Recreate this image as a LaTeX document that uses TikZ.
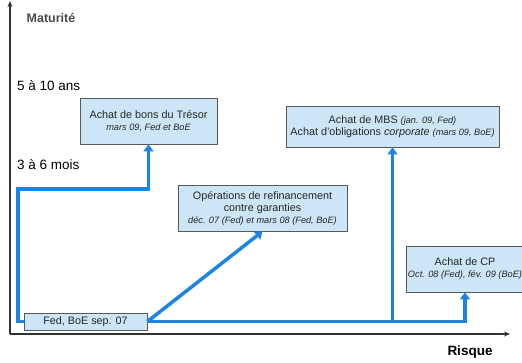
\documentclass[tikz,border=0pt]{standalone}
\usepackage{fontspec}
\setmainfont{Liberation Sans}
\usetikzlibrary{arrows.meta}
\definecolor{flowblue}{RGB}{30,132,226}
\definecolor{boxfill}{RGB}{204,230,248}
\newcommand{\dates}[1]{{\fontsize{9.2}{11}\selectfont\itshape #1}}

\begin{document}
\begin{tikzpicture}[x=1pt,y=-1pt]
\tikzstyle{every node}+=[inner sep=0pt]
\tikzstyle{box}=[draw=black!65,line width=0.8pt,fill=boxfill,align=center,text=black!85,font=\fontsize{10.8}{12}\selectfont]
\tikzstyle{flow}=[flowblue,line width=3.5pt,-{Triangle[length=7pt,width=10pt]}]
\tikzstyle{axis}=[black!80,line width=1.2pt,-{Stealth[length=6pt,width=5pt]}]
\tikzstyle{level}=[anchor=west,font=\fontsize{13.5}{15}\selectfont]
\useasboundingbox (0,0) rectangle (522,362);
\coordinate (o) at (10,334);
\coordinate (ytop) at (10,1);
\coordinate (xend) at (510,334);
\draw[axis] (o) -- (ytop);
\draw[axis] (o) -- (xend);
\node[font=\bfseries\fontsize{12.5}{14}\selectfont,text=black!70] (mat) at (51,18) {Maturité};
\node[level] (long) at (17,86) {5 à 10 ans};
\node[level] (court) at (17,165) {3 à 6 mois};
\node[font=\bfseries\fontsize{13.5}{15}\selectfont] (risque) at (470,352) {Risque};
\node[box,minimum width=137,minimum height=46] (tresor) at (148.5,121) {Achat de bons du Trésor\\\dates{mars 09, Fed et BoE}};
\node[box,minimum width=213,minimum height=41] (mbs) at (392.5,126.5) {Achat de MBS \dates{(jan. 09, Fed)}\\Achat d'obligations \textit{corporate} \dates{(mars 09, BoE)}};
\node[box,minimum width=169,minimum height=46] (refin) at (262.5,208) {Opérations de refinancement\\contre garanties\\\dates{déc. 07 (Fed) et mars 08 (Fed, BoE)}};
\node[box,minimum width=118,minimum height=46] (cp) at (465,269) {Achat de CP\\\dates{Oct. 08 (Fed), fév. 09 (BoE)}};
\node[box,minimum width=123,minimum height=17] (fed) at (85.5,321.5) {Fed, BoE sep. 07};
\coordinate (coude) at (18,189);
\draw[flow] (fed.west) -- (fed.west -| coude) -- (coude) -| (tresor.south);
\draw[flow] (fed.east) -- (refin.south);
\draw[flow] (fed.east) -- (fed.east -| mbs.south) -- (mbs.south);
\draw[flow] (fed.east -| mbs.south) -| (cp.south);
\end{tikzpicture}
\end{document}
